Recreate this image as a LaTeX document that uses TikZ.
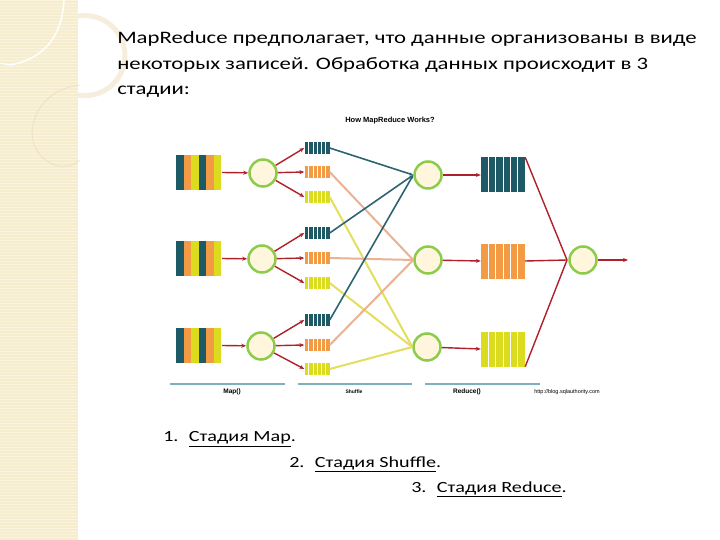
\documentclass[tikz,border=0pt]{standalone}
\usepackage{fontspec}
\setmainfont{Carlito}
\setsansfont{Liberation Sans}
\usetikzlibrary{arrows.meta}
\definecolor{teal1}{HTML}{1D5A66}
\definecolor{orng}{HTML}{F39A45}
\definecolor{yell}{HTML}{DCDC1E}
\definecolor{redar}{HTML}{B0202A}
\definecolor{cgreen}{HTML}{8DCB4A}
\definecolor{cream}{HTML}{FFF6DD}
\definecolor{barblue}{HTML}{7FB0C2}
\definecolor{lteal}{HTML}{2E6472}
\definecolor{lorng}{HTML}{EAB294}
\definecolor{lyell}{HTML}{E3DF5E}
\definecolor{beige}{HTML}{F6EDCF}
\tikzset{
  circ/.style={circle,draw=cgreen,line width=2.5pt,fill=cream,minimum size=27pt,inner sep=0pt},
  rarrow/.style={draw=redar,line width=1.4pt,-{Stealth[length=5pt,width=4pt]}},
  sbox/.style={minimum width=25pt,minimum height=12pt,inner sep=0pt},
  bbox/.style={minimum width=44pt,minimum height=35pt,inner sep=0pt},
  bar/.style={draw=barblue,line width=2.5pt},
  lbl/.style={font=\sffamily\bfseries\fontsize{6.5}{7}\selectfont},
  big/.style={anchor=west,inner sep=0pt,xscale=1.3,transform shape,font=\fontsize{17.5}{20}\selectfont},
  lst/.style={anchor=west,inner sep=0pt,xscale=1.3,transform shape,font=\fontsize{15.5}{18}\selectfont},
}
\newcommand{\stripes}[4]{%
  \foreach \c [count=\i from 0] in {teal1,orng,yell,teal1,orng,yell}
    \fill[\c] ({#1+\i*#3/6},#2) rectangle ++({#3/6},#4);}
\newcommand{\queue}[4]{%
  \fill[#4] ({#1-#3/2},{#2-6}) rectangle ({#1+#3/2},{#2+6});
  \foreach \k in {1,...,5} \draw[white,line width=0.6pt] ({#1-#3/2+\k*#3/6},{#2-6}) -- ({#1-#3/2+\k*#3/6},{#2+6});}
\begin{document}
\begin{tikzpicture}[x=1pt,y=-1pt]
\useasboundingbox (0,0) rectangle (720,540);
\fill[white] (0,0) rectangle (720,540);
\fill[beige] (0,0) rectangle (78,540);
\foreach \yy in {0,3,...,540} \draw[white,opacity=0.35,line width=0.5pt] (0,\yy) -- (78,\yy);
\draw[white,line width=1pt] (78,0) -- (78,540);
\draw[white,line width=1.5pt] (64,0) .. controls (62,40) and (40,60) .. (10,65);
\draw[white,line width=1pt] (0,63) -- (10,65);
\draw[beige!85!brown,line width=5pt,opacity=0.5] (78,95) arc[start angle=-80,end angle=-280,radius=-40];
\draw[beige!80!brown,line width=1pt,opacity=0.5] (80,85) .. controls (30,90) and (15,150) .. (55,165) .. controls (65,168) and (75,165) .. (80,160);
\node[big] (t1) at (117,39) {MapReduce предполагает, что данные организованы в виде};
\node[big] (t2) at (117,65) {некоторых записей. Обработка данных происходит в 3};
\node[big] (t3) at (117,92) {стадии:};
\node[font=\sffamily\bfseries\fontsize{7.5}{8}\selectfont] (hw) at (390,121) {How MapReduce Works?};
\foreach \n/\yy in {1/155,2/241,3/328}{
  \stripes{176}{\yy}{45}{35}
  \coordinate (in\n) at (222,\yy+17.5);}
\node[circ] (m1) at (263,173) {};
\node[circ] (m2) at (262,259) {};
\node[circ] (m3) at (261,346) {};
\foreach \n in {1,2,3} \draw[rarrow] (in\n) -- (m\n);
\foreach \g/\ya/\yb/\yc in {1/148/172/197,2/233/258/283,3/320/345/369}{
  \queue{317}{\ya}{25}{teal1}
  \queue{317}{\yb}{25}{orng}
  \queue{317}{\yc}{25}{yell}
  \node[sbox] (q\g a) at (317,\ya) {};
  \node[sbox] (q\g b) at (317,\yb) {};
  \node[sbox] (q\g c) at (317,\yc) {};
  \foreach \s in {a,b,c} \draw[rarrow] (m\g) -- (q\g\s.west);}
\node[circ] (r1) at (428,175) {};
\node[circ] (r2) at (428,260) {};
\node[circ] (r3) at (427,347) {};
\foreach \g in {1,2,3}{
  \draw[lteal,line width=1.6pt,-{Stealth[length=4pt,width=3pt]}] (q\g a.east) -- (r1.west);
  \draw[lorng,line width=2pt] (q\g b.east) -- (r2.west);
  \draw[lyell,line width=2pt] (q\g c.east) -- (r3.west);}
\foreach \n/\yy/\c in {1/175/teal1,2/261/orng,3/349/yell}{
  \fill[\c] (481,\yy-17.5) rectangle (525,\yy+17.5);
  \foreach \k in {1,...,5} \draw[white,line width=0.6pt] (481+\k*44/6,\yy-17.5) -- (481+\k*44/6,\yy+17.5);
  \node[bbox] (b\n) at (503,\yy) {};
  \draw[rarrow] (r\n) -- (b\n.west);}
\node[circ] (f) at (583,260) {};
\coordinate (fm) at (567,260);
\draw[redar,line width=1.4pt] (b1.north east) -- (fm);
\draw[redar,line width=1.4pt] (b2.east) -- (fm);
\draw[redar,line width=1.4pt] (b3.south east) -- (fm);
\coordinate (out) at (628,260);
\draw[rarrow] (f) -- (out);
\draw[bar] (170,384) -- (285,384);
\draw[bar] (298,384) -- (412,384);
\draw[bar] (425,384) -- (540,384);
\node[lbl] (lm) at (232,392) {Map()};
\node[font=\sffamily\bfseries\fontsize{5}{6}\selectfont] (ls) at (354,392) {Shuffle};
\node[lbl] (lr) at (467,392) {Reduce()};
\node[font=\sffamily\fontsize{5.5}{6}\selectfont] (url) at (567,392) {http://blog.sqlauthority.com};
\node[lst] (l1) at (163,439) {1.\hspace{8pt}\underline{Стадия Map}.};
\node[lst] (l2) at (289,464) {2.\hspace{8pt}\underline{Стадия Shuffle}.};
\node[lst] (l3) at (411,489) {3.\hspace{8pt}\underline{Стадия Reduce}.};
\end{tikzpicture}
\end{document}
